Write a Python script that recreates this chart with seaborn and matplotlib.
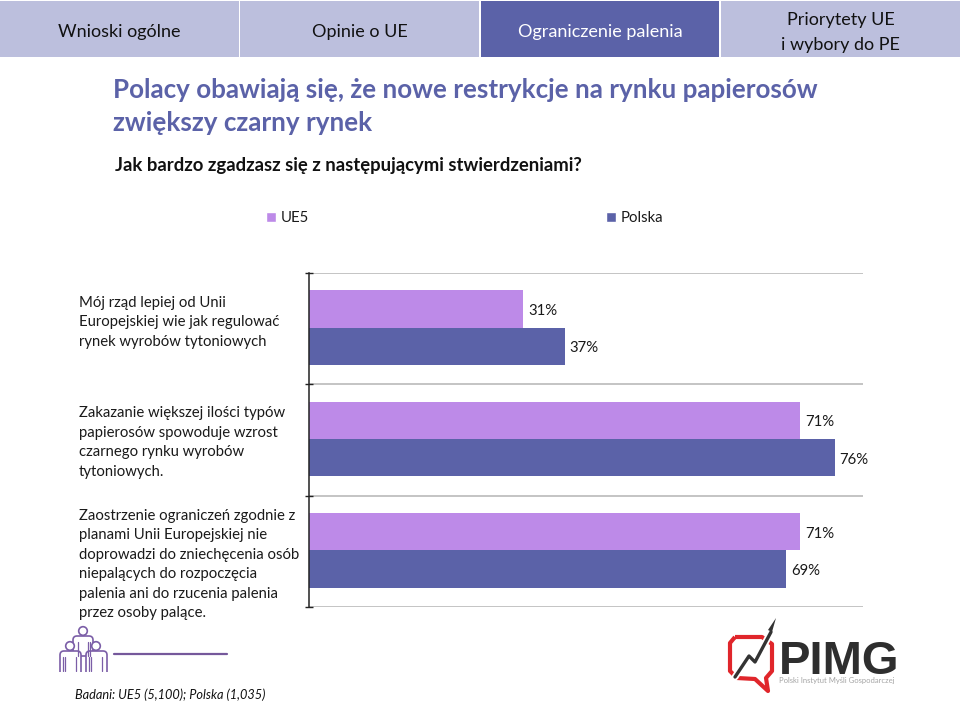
import matplotlib
matplotlib.use("Agg")
import matplotlib.pyplot as plt
import seaborn as sns
import pandas as pd
from matplotlib.patches import Rectangle, Circle, FancyBboxPatch, PathPatch, Polygon
from matplotlib.path import Path
from matplotlib.lines import Line2D
from matplotlib.ticker import FixedLocator
from matplotlib.transforms import ScaledTranslation

categories = [
    "Mój rząd lepiej od Unii\nEuropejskiej wie jak regulować\nrynek wyrobów tytoniowych",
    "Zakazanie większej ilości typów\npapierosów spowoduje wzrost\nczarnego rynku wyrobów\ntytoniowych.",
    "Zaostrzenie ograniczeń zgodnie z\nplanami Unii Europejskiej nie\ndoprowadzi do zniechęcenia osób\nniepalących do rozpoczęcia\npalenia ani do rzucenia palenia\nprzez osoby palące.",
]
ue5 = [31, 71, 71]
polska = [37, 76, 69]
series_names = ["UE5", "Polska"]
tabs = ["Wnioski ogólne", "Opinie o UE", "Ograniczenie palenia", "Priorytety UE\ni wybory do PE"]
title = "Polacy obawiają się, że nowe restrykcje na rynku papierosów\nzwiększy czarny rynek"
question = "Jak bardzo zgadzasz się z następującymi stwierdzeniami?"
footnote = "Badani: UE5 (5,100); Polska (1,035)"

C_UE = "#BD8AE8"
C_PL = "#5B62A8"
C_TAB = "#BCBFDD"
FONT = "Lato"
W, H = 960, 720

sns.set_theme(style="white")
plt.rcParams["font.family"] = [FONT, "DejaVu Sans"]
plt.rcParams["text.color"] = "#1a1a1a"

fig = plt.figure(figsize=(9.6, 7.2), dpi=100, facecolor="white")
def fx(x): return x / W
def fy(y): return 1 - y / H

# overlay for page decoration, in pixel coordinates
bg = fig.add_axes([0, 0, 1, 1], zorder=0)
bg.set_xlim(0, W); bg.set_ylim(H, 0); bg.axis("off")

tab_edges = [(0, 239), (240, 479), (481, 719), (721, 960)]
for i, (name, (a, b)) in enumerate(zip(tabs, tab_edges)):
    active = i == 2
    bg.add_patch(Rectangle((a, 1), b - a, 56, fc=C_PL if active else C_TAB, ec="none"))
    bg.text((a + b) / 2, 32.5, name, ha="center", va="center", fontsize=13,
            color="white" if active else "#111111", linespacing=1.75)

bg.text(113, 106.5, title, ha="left", va="center", fontsize=18.75, fontweight="bold",
        color=C_PL, linespacing=1.42)
bg.text(115, 165, question, ha="left", va="center", fontsize=13.3, fontweight="bold", color="#111111")
bg.text(75, 695, footnote, ha="left", va="center", fontsize=9.16, style="italic", color="#111111")

# people icon
IC = "#7B5EA7"
bg.add_line(Line2D([114, 227], [653.5, 653.5], color="#75589B", lw=1.6))
for cx, cy, r in [(83, 631, 4.3), (70, 646, 4.3), (96, 646, 4.3)]:
    bg.add_patch(Circle((cx, cy), r, fc="white", ec=IC, lw=1.2, zorder=3))
for x0, y0, wd, ht in [(73, 636, 20, 20), (60, 651, 21, 25), (86, 651, 21, 25)]:
    bg.add_patch(FancyBboxPatch((x0, y0), wd, ht, boxstyle="round,pad=0,rounding_size=4",
                                fc="white", ec=IC, lw=1.2, zorder=2))
    yb = min(y0 + ht, 671)
    for dx in (5, wd - 5, wd - 3 if wd < 21 else 3):
        bg.add_line(Line2D([x0 + dx, x0 + dx], [y0 + 6, yb], color=IC, lw=0.9, zorder=3))
bg.add_patch(Rectangle((58, 671.5), 51, 6, fc="white", ec="none", zorder=4))

# logo
verts = [(735, 637), (762, 637), (772, 644), (772, 671), (766, 678), (768, 691), (755, 679),
         (737, 678), (730, 671), (730, 643), (735, 637)]
bg.add_patch(PathPatch(Path(verts), fc="none", ec="#E0262B", lw=3, joinstyle="round", zorder=3))
bg.add_line(Line2D([735, 749, 755, 771], [677, 656, 662, 632], color="white", lw=5, zorder=4))
bg.add_line(Line2D([735, 749, 755, 771], [677, 656, 662, 632], color="#333333", lw=2.4, zorder=5))
bg.add_patch(Polygon([(768, 630), (772, 632), (776, 618)], fc="#333333", ec="none", zorder=5))
bg.text(779, 674, "PIMG", ha="left", va="baseline", fontsize=34, fontweight="bold", color="#2E2E2E",
        family="Liberation Sans", zorder=5)
bg.text(779, 680.5, "Polski Instytut Myśli Gospodarczej", ha="left", va="center", fontsize=5.5, color="#A5A5A5")

# chart
L, R, T, B = 309, 863, 273, 607
ax = fig.add_axes([fx(L), fy(B), fx(R - L), fy(T) - fy(B)], zorder=1)
ax.patch.set_alpha(0)
df = pd.DataFrame({"cat": categories * 2,
                   "value": ue5 + polska,
                   "series": [series_names[0]] * 3 + [series_names[1]] * 3})
sns.barplot(data=df, y="cat", x="value", hue="series", hue_order=series_names, orient="h",
            palette=[C_UE, C_PL], width=0.67, gap=0, saturation=1, ax=ax, legend=False,
            linewidth=0, edgecolor="none")
ax.set_xlim(0, 80.1)
ax.set_ylim(2.51, -0.49)
ax.set_xlabel(""); ax.set_ylabel("")
ax.set_xticks([])
for s in ["top", "right", "bottom"]:
    ax.spines[s].set_visible(False)
ax.spines["left"].set_color("#222222")
ax.spines["left"].set_linewidth(1.1)
ax.yaxis.set_minor_locator(FixedLocator([-0.49, 0.51, 1.51, 2.51]))
ax.yaxis.grid(True, which="minor", color="#BFBFBF", lw=1.3, zorder=0)
ax.set_axisbelow(True)
ax.tick_params(axis="y", which="major", length=0, pad=230 * 0.72, labelsize=10.7, labelcolor="#1a1a1a")
ax.tick_params(axis="y", which="minor", length=6, width=1, color="#222222", direction="inout", left=True)
label_shift_px = [9.5, 0.5, -10]  # labels sit off-centre from their bars in the reference
for lab, dy in zip(ax.get_yticklabels(), label_shift_px):
    lab.set_ha("left")
    lab.set_linespacing(1.5)
    lab.set_transform(lab.get_transform() + ScaledTranslation(0, dy / 100, fig.dpi_scale_trans))

for cont in ax.containers:
    for ann in ax.bar_label(cont, fmt="%d%%", padding=3.5, fontsize=10.7, color="#1a1a1a"):
        ann.xyann = (3.5, -1.5)

handles = [Rectangle((0, 0), 1, 1, fc=C_UE), Rectangle((0, 0), 1, 1, fc=C_PL)]
fig.legend(handles, series_names, loc="center", bbox_to_anchor=(fx(464.5), fy(218.5)), ncol=2, frameon=False,
           fontsize=10.7, handlelength=0.68, handleheight=0.68, handletextpad=0.3, columnspacing=20.0)

fig.savefig("out.png", dpi=100, facecolor="white")
